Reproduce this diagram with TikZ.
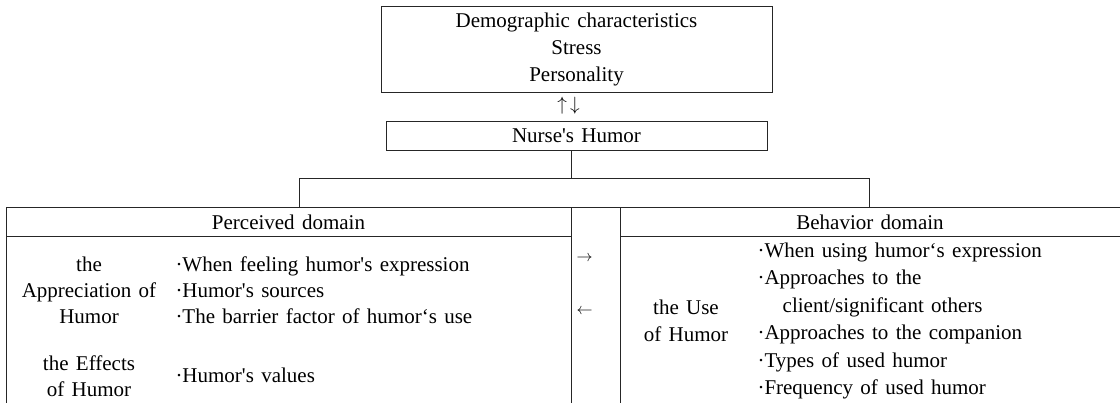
\documentclass[tikz,border=0pt]{standalone}
\usepackage{fontspec}
\setmainfont{Liberation Serif}[WordSpace=1.4]
\newcommand{\sq}{\textquotesingle}
\begin{document}
\begin{tikzpicture}[x=0.75pt,y=-0.75pt,line width=0.75pt,
  lines/.style={draw=black!85},
  boxnode/.style={draw=black!85,inner sep=0pt,align=center},
  fa/.style={font=\fontsize{15.75pt}{19.9pt}\selectfont},
  fb/.style={font=\fontsize{15.75pt}{19.5pt}\selectfont},
  fc/.style={font=\fontsize{15.75pt}{20.6pt}\selectfont},
  txt/.style={inner sep=0pt},
  arr/.style={inner sep=0pt,font=\fontsize{12pt}{14pt}\selectfont}]
\useasboundingbox (0,0) rectangle (1120,403);

% top boxes
\node[boxnode,fa,minimum width=293.25pt,minimum height=63.75pt] (demo) at (576.5,49.5)
  {Demographic characteristics\\Stress\\Personality};
\node[txt,font=\fontsize{15pt}{18pt}\selectfont] (ud) at (568.5,106) {$\uparrow\mkern3mu\downarrow$};
\node[boxnode,fa,minimum width=285.75pt,minimum height=21.75pt] (nurse) at (576.5,135.5)
  {Nurse\sq s Humor};

% tree connectors
\coordinate (hub) at (571.5,178);
\coordinate (hl) at (299,178);
\coordinate (hr) at (869,178);
\coordinate (tl) at (6,207);
\coordinate (tr) at (1120,207);
\coordinate (m1) at (571.5,207);
\coordinate (m2) at (620,207);
\coordinate (bl) at (6,403);
\coordinate (bm1) at (571.5,403);
\coordinate (bm2) at (620,403);
\coordinate (hdl) at (6,236);
\coordinate (hdr) at (1120,236);

\draw[lines] (nurse.south -| hub) -- (hub);
\draw[lines] (hl) -- (hr);
\draw[lines] (hl) -- (hl |- tl);
\draw[lines] (hr) -- (hr |- tl);

% table frame
\draw[lines] (tl) -- (tr);
\draw[lines] (tl) -- (bl);
\draw[lines] (m1) -- (bm1);
\draw[lines] (m2) -- (bm2);
\draw[lines] (hdl) -- (hdl -| m1);
\draw[lines] (hdl -| m2) -- (hdr);

% headers
\node[txt,fb] (perc) at (288.5,222) {Perceived domain};
\node[txt,fb] (behav) at (870,222) {Behavior domain};

% left table body
\node[txt,fb,align=center] (appr) at (89,290) {the\\Appreciation of\\Humor};
\node[txt,fb,align=left,anchor=west] (apprl) at (175,290)
  {·When feeling humor\sq s expression\\·Humor\sq s sources\\·The barrier factor of humor‘s use};
\node[txt,fb,align=center] (eff) at (89,376) {the Effects\\of Humor};
\node[txt,fb,anchor=west] (effl) at (175,375) {·Humor\sq s values};

% middle arrows
\node[arr] (ra) at (584.5,259) {$\rightarrow$};
\node[arr] (la) at (584.5,312) {$\leftarrow$};

% right table body
\node[txt,fc,align=center] (use) at (686,321) {the Use\\of Humor};
\node[txt,fc,align=left,anchor=west] (usel) at (757,321)
  {·When using humor‘s expression\\·Approaches to the\\\hspace*{1.2em}client/significant others\\·Approaches to the companion\\·Types of used humor\\·Frequency of used humor};
\end{tikzpicture}
\end{document}
